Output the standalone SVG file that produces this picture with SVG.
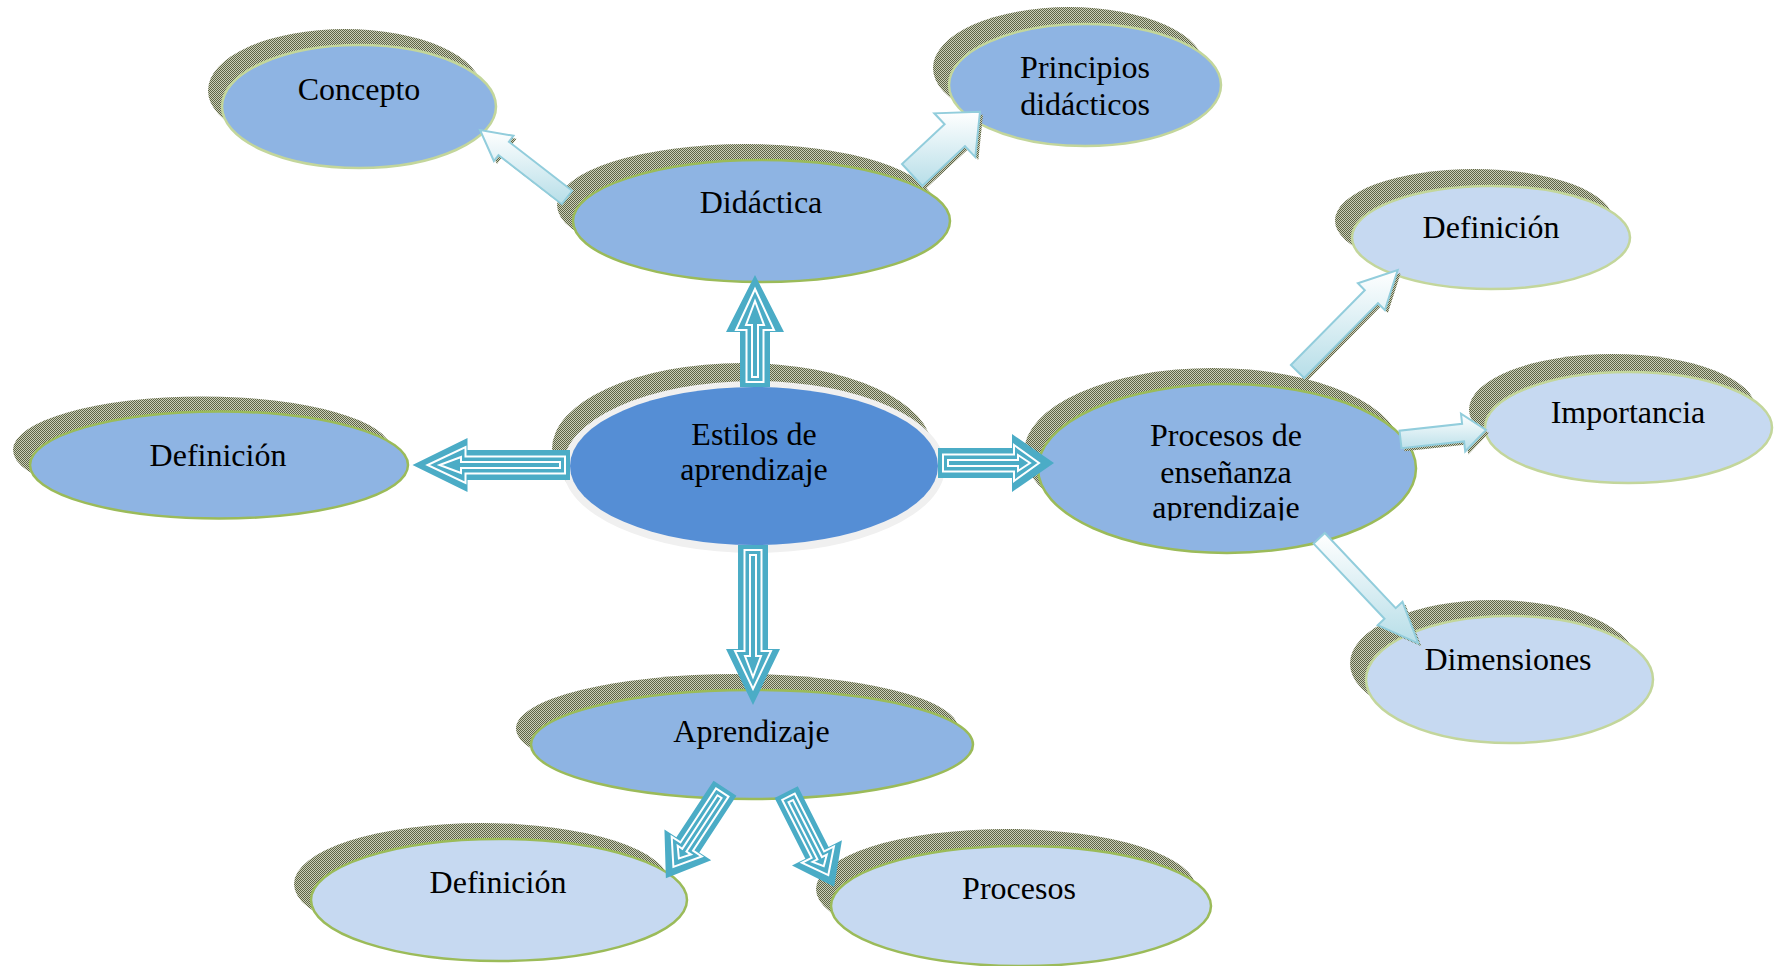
<svg xmlns="http://www.w3.org/2000/svg" width="1778" height="966" viewBox="0 0 1778 966">
<style>
.sh{fill:url(#hatch)}
.dk{fill:#8EB4E3}
.lt{fill:#C6D9F1}
.s1{stroke:#9BBB59;stroke-width:2.5}
.s2{stroke:#C3D69B;stroke-width:2.5}
.t{font-family:"Liberation Serif","Times New Roman",serif;font-size:32px;fill:#000;text-anchor:middle}
.teal{fill:#4BACC6}
.wo{fill:none;stroke:#FFFFFF;stroke-width:2;stroke-linejoin:miter}
.la{fill:url(#lg);stroke:#92CDDC;stroke-width:2;stroke-linejoin:miter}
.las{fill:url(#hatch)}
</style>
<defs>
<pattern id="hatch" width="2" height="2" patternUnits="userSpaceOnUse">
<rect width="2" height="2" fill="#CBCFB8"/>
<rect width="1" height="1" fill="#5E6447"/>
<rect x="1" y="1" width="1" height="1" fill="#5E6447"/>
</pattern>
<linearGradient id="lg" x1="0" y1="0" x2="0" y2="1">
<stop offset="0" stop-color="#FFFFFF"/>
<stop offset="1" stop-color="#B7DEE8"/>
</linearGradient>
<clipPath id="clipPE"><rect x="1000" y="380" width="440" height="140.5"/></clipPath>
</defs>
<rect width="1778" height="966" fill="#FFFFFF"/>

<g id="node-concepto">
<ellipse class="sh" cx="345" cy="90.5" rx="137" ry="61.5"/>
<ellipse class="dk s2" cx="359" cy="106.5" rx="137" ry="61.5"/>
<text class="t" x="359" y="100">Concepto</text>
</g>
<g id="node-principios">
<ellipse class="sh" cx="1069" cy="68" rx="136" ry="61"/>
<ellipse class="dk s2" cx="1085" cy="85" rx="136" ry="61"/>
<text class="t" x="1085" y="78">Principios</text>
<text class="t" x="1085" y="115">didácticos</text>
</g>
<g id="node-didactica">
<ellipse class="sh" cx="745.5" cy="205" rx="188.5" ry="61"/>
<ellipse class="dk s1" cx="761.5" cy="221" rx="188.5" ry="61"/>
<text class="t" x="761" y="213">Didáctica</text>
</g>
<g id="node-definicion-izq">
<ellipse class="sh" cx="202" cy="450" rx="189" ry="53.5"/>
<ellipse class="dk s1" cx="219" cy="465" rx="189" ry="53.5"/>
<text class="t" x="218" y="466">Definición</text>
</g>
<g id="node-estilos">
<ellipse class="sh" cx="742" cy="449" rx="190" ry="86"/>
<ellipse fill="#F0F0F0" cx="754" cy="467" rx="191" ry="86"/>
<ellipse fill="#558ED5" cx="754" cy="466" rx="184" ry="79"/>
<text class="t" x="754" y="445">Estilos de</text>
<text class="t" x="754" y="480">aprendizaje</text>
</g>
<g id="node-procesos-ea">
<ellipse class="sh" cx="1213" cy="452.5" rx="189" ry="84.5"/>
<ellipse class="dk s1" cx="1227" cy="468.5" rx="189" ry="84.5"/>
<text class="t" x="1226" y="446">Procesos de</text>
<text class="t" x="1226" y="483">enseñanza</text>
<text class="t" x="1226" y="518" clip-path="url(#clipPE)">aprendizaje</text>
</g>
<g id="node-definicion-der">
<ellipse class="sh" cx="1474" cy="220.5" rx="139" ry="51.5"/>
<ellipse class="lt s2" cx="1491" cy="237.5" rx="139" ry="51.5"/>
<text class="t" x="1491" y="238">Definición</text>
</g>
<g id="node-importancia">
<ellipse class="sh" cx="1612.5" cy="409.5" rx="143.5" ry="55.5"/>
<ellipse class="lt s2" cx="1628.5" cy="427.5" rx="143.5" ry="55.5"/>
<text class="t" x="1628" y="423">Importancia</text>
</g>
<g id="node-dimensiones">
<ellipse class="sh" cx="1493.5" cy="663.5" rx="143.5" ry="63.5"/>
<ellipse class="lt s2" cx="1509.5" cy="679.5" rx="143.5" ry="63.5"/>
<text class="t" x="1508" y="670">Dimensiones</text>
</g>
<g id="node-aprendizaje">
<ellipse class="sh" cx="737" cy="728.5" rx="221" ry="54.5"/>
<ellipse class="dk s1" cx="752" cy="744.5" rx="221" ry="54.5"/>
<text class="t" x="751.5" y="742">Aprendizaje</text>
</g>
<g id="node-definicion-inf">
<ellipse class="sh" cx="482" cy="884" rx="188" ry="61"/>
<ellipse class="lt s1" cx="499" cy="900" rx="188" ry="61"/>
<text class="t" x="498" y="893">Definición</text>
</g>
<g id="node-procesos">
<ellipse class="sh" cx="1006" cy="889" rx="190" ry="60"/>
<ellipse class="lt s1" cx="1021" cy="906" rx="190" ry="60"/>
<text class="t" x="1019" y="899">Procesos</text>
</g>

<g id="connectors">
<!-- teal double-outline arrows from the centre -->
<g transform="translate(755,387) rotate(-90)">
<polygon class="teal" points="0,-15 55,-15 55,-29 112,0 55,29 55,15 0,15"/>
<polygon class="wo" points="5,-8.5 57,-8.5 57,-19 98,0 57,19 57,8.5 5,8.5"/>
<polygon class="wo" points="10,-3 62,-3 62,-9 86,0 62,9 62,3 10,3"/>
</g>
<g transform="translate(570,465) rotate(180)">
<polygon class="teal" points="0,-15 102.5,-15 102.5,-27 157.5,0 102.5,27 102.5,15 0,15"/>
<polygon class="wo" points="5,-8.5 104.5,-8.5 104.5,-18 142.5,0 104.5,18 104.5,8.5 5,8.5"/>
<polygon class="wo" points="10,-3 109,-3 109,-8 130.5,0 109,8 109,3 10,3"/>
</g>
<g transform="translate(938,463)">
<polygon class="teal" points="0,-15 74,-15 74,-29 116,0 74,29 74,15 0,15"/>
<polygon class="wo" points="5,-8.5 76,-8.5 76,-18 101,0 76,18 76,8.5 5,8.5"/>
<polygon class="wo" points="10,-3 80,-3 80,-8 92,0 80,8 80,3 10,3"/>
</g>
<g transform="translate(753,545) rotate(90)">
<polygon class="teal" points="0,-15 104,-15 104,-27 160,0 104,27 104,15 0,15"/>
<polygon class="wo" points="5,-8.5 106,-8.5 106,-18 144,0 106,18 106,8.5 5,8.5"/>
<polygon class="wo" points="10,-3 111,-3 111,-8 132,0 111,8 111,3 10,3"/>
</g>
<g transform="translate(725,788.3) rotate(123.3)">
<polygon class="teal" points="0,-13.7 67.7,-13.7 67.7,-28 107.7,0 67.7,28 67.7,13.7 0,13.7"/>
<polygon class="wo" points="5,-7.5 69.7,-7.5 69.7,-18 94,0 69.7,18 69.7,7.5 5,7.5"/>
<polygon class="wo" points="10,-2.5 74,-2.5 74,-8 84,0 74,8 74,2.5 10,2.5"/>
</g>
<g transform="translate(786.2,792.2) rotate(63.1)">
<polygon class="teal" points="0,-13 68,-13 68,-28 106,0 68,28 68,13 0,13"/>
<polygon class="wo" points="5,-7 70,-7 70,-18 93,0 70,18 70,7 5,7"/>
<polygon class="wo" points="10,-2.5 74,-2.5 74,-8 83,0 74,8 74,2.5 10,2.5"/>
</g>

<!-- light gradient arrows -->
<g id="arrow-concepto">
<polygon class="las" transform="translate(3,3)" points="572.2,190.8 508.9,141.7 513.5,135.8 480,130 493.9,161 498.5,155.1 561.8,204.2"/>
<polygon class="la" points="572.2,190.8 508.9,141.7 513.5,135.8 480,130 493.9,161 498.5,155.1 561.8,204.2"/>
</g>
<g id="arrow-principios">
<polygon class="las" transform="translate(3,3)" points="922.4,186 965,146.2 975.3,157.1 980,111.7 934.3,113.3 944.6,124.2 902,164"/>
<polygon class="la" points="922.4,186 965,146.2 975.3,157.1 980,111.7 934.3,113.3 944.6,124.2 902,164"/>
</g>
<g id="arrow-definicion-der">
<polygon class="las" transform="translate(3,3)" points="1304.1,378 1378,303.2 1384.9,310.1 1397.7,270 1357.9,283.3 1364.8,290.2 1290.9,365"/>
<polygon class="la" points="1304.1,378 1378,303.2 1384.9,310.1 1397.7,270 1357.9,283.3 1364.8,290.2 1290.9,365"/>
</g>
<g id="arrow-importancia">
<polygon class="las" transform="translate(3,3)" points="1401.5,448.3 1464.1,441.4 1465.2,451.5 1486,430 1461,413.7 1462.1,423.8 1399.5,430.7"/>
<polygon class="la" points="1401.5,448.3 1464.1,441.4 1465.2,451.5 1486,430 1461,413.7 1462.1,423.8 1399.5,430.7"/>
</g>
<g id="arrow-dimensiones">
<polygon class="las" transform="translate(3,3)" points="1313.6,543.6 1384.5,618.8 1377.7,625.2 1418.3,643.3 1402.5,601.8 1395.7,608.2 1324.8,533"/>
<polygon class="la" points="1313.6,543.6 1384.5,618.8 1377.7,625.2 1418.3,643.3 1402.5,601.8 1395.7,608.2 1324.8,533"/>
</g>
</g>
</svg>
